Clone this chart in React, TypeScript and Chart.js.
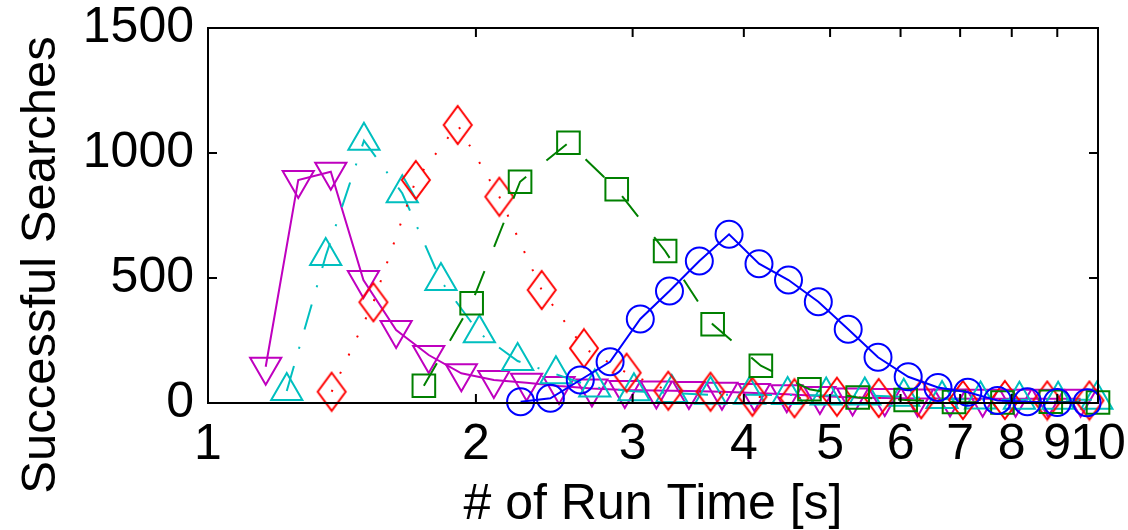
import React, { useEffect, useRef } from "react";
import { Chart, registerables } from "chart.js";

Chart.register(...registerables);

const xTickValues = [1, 2, 3, 4, 5, 6, 7, 8, 9, 10];
const yTickValues = [0, 500, 1000, 1500];

const blueX = [2.245, 2.425, 2.62, 2.83, 3.06, 3.3, 3.565, 3.85, 4.16, 4.49, 4.85, 5.24, 5.66, 6.12, 6.61, 7.14, 7.71, 8.33, 9.0, 9.72];
const blueY = [5, 19, 92, 165, 336, 448, 568, 675, 557, 492, 405, 295, 183, 105, 62, 43, 10, 5, 2, 1];

const greenX = [1.748, 1.978, 2.242, 2.541, 2.879, 3.263, 3.69, 4.18, 4.74, 5.37, 6.08, 6.89, 7.81, 8.85, 10.0];
const greenY = [69, 399, 885, 1041, 855, 608, 315, 149, 55, 22, 12, 4, 2, 5, 2];

const redX = [1.377, 1.534, 1.712, 1.908, 2.125, 2.371, 2.645, 2.954, 3.29, 3.67, 4.09, 4.56, 5.09, 5.67, 6.33, 7.05, 7.86, 8.77, 9.78];
const redY = [45, 403, 892, 1112, 825, 452, 219, 121, 49, 45, 25, 19, 25, 20, 15, 12, 12, 10, 10];

const cyanX = [1.226, 1.356, 1.497, 1.653, 1.827, 2.018, 2.228, 2.46, 2.72, 3.01, 3.32, 3.67, 4.06, 4.48, 4.95, 5.47, 6.05, 6.68, 7.38, 8.16, 9.02, 9.97];
const cyanY = [48, 588, 1049, 839, 488, 279, 168, 115, 62, 47, 40, 33, 33, 32, 30, 30, 25, 16, 14, 13, 13, 13];

const magentaX = [1.161, 1.263, 1.374, 1.495, 1.627, 1.77, 1.926, 2.095, 2.28, 2.48, 2.7, 2.94, 3.19, 3.47, 3.78, 4.11, 4.47, 4.87, 5.3, 5.76, 6.27, 6.82, 7.42, 8.08, 8.79, 9.56];
const magentaY = [145, 892, 925, 492, 292, 192, 119, 92, 81, 68, 58, 52, 50, 48, 45, 40, 35, 28, 22, 20, 18, 18, 17, 17, 17, 17];

const xTitle = "# of Run Time [s]";
const yTitle = "Successful Searches";

const BLUE = "#0000ff";
const GREEN = "#008000";
const RED = "#ff0000";
const CYAN = "#00bfbf";
const MAGENTA = "#bf00bf";

const FONT = "'Liberation Sans', Arial, Helvetica, sans-serif";

function pts(xs: number[], ys: number[]) {
  return xs.map((x, i) => ({ x, y: ys[i] }));
}

function makeDiamond(color: string): HTMLCanvasElement {
  const c = document.createElement("canvas");
  const w = 32;
  const h = 42;
  c.width = w;
  c.height = h;
  const g = c.getContext("2d")!;
  g.strokeStyle = color;
  g.lineWidth = 2;
  g.beginPath();
  g.moveTo(w / 2, 2);
  g.lineTo(w - 2, h / 2);
  g.lineTo(w / 2, h - 2);
  g.lineTo(2, h / 2);
  g.closePath();
  g.stroke();
  return c;
}

const boxPlugin = {
  id: "matlabBox",
  afterDatasetsDraw(chart: any) {
    const { ctx, chartArea, scales } = chart;
    const { left, right, top, bottom } = chartArea;
    ctx.save();
    ctx.strokeStyle = "#000";
    ctx.lineWidth = 2;
    ctx.strokeRect(left, top, right - left, bottom - top);
    const len = 9;
    ctx.beginPath();
    for (const v of xTickValues) {
      const px = scales.x.getPixelForValue(v);
      if (px <= left + 1 || px >= right - 1) continue;
      ctx.moveTo(px, bottom);
      ctx.lineTo(px, bottom - len);
      ctx.moveTo(px, top);
      ctx.lineTo(px, top + len);
    }
    for (const v of yTickValues) {
      const py = scales.y.getPixelForValue(v);
      if (py <= top + 1 || py >= bottom - 1) continue;
      ctx.moveTo(left, py);
      ctx.lineTo(left + len, py);
      ctx.moveTo(right, py);
      ctx.lineTo(right - len, py);
    }
    ctx.stroke();
    ctx.restore();
  },
};

const TITLE_SIZE = 49;
const TITLE_PAD_TOP = 17;

export default function App() {
  const ref = useRef<HTMLCanvasElement | null>(null);

  useEffect(() => {
    if (!ref.current) return;
    const diamond = makeDiamond(RED);
    const common = {
      showLine: true,
      fill: false,
      tension: 0,
      borderWidth: 2,
      pointBorderWidth: 2,
      pointBackgroundColor: "rgba(0,0,0,0)",
      backgroundColor: "rgba(0,0,0,0)",
      clip: false as any,
    };
    const chart = new Chart(ref.current, {
      type: "scatter",
      data: {
        datasets: [
          {
            ...common,
            label: "blue",
            data: pts(blueX, blueY),
            borderColor: BLUE,
            pointBorderColor: BLUE,
            pointStyle: "circle",
            pointRadius: 13.5,
            order: 0,
          },
          {
            ...common,
            label: "green",
            data: pts(greenX, greenY),
            borderColor: GREEN,
            pointBorderColor: GREEN,
            borderDash: [26, 26],
            pointStyle: "rect",
            pointRadius: 16,
            order: 1,
          },
          {
            ...common,
            label: "red",
            data: pts(redX, redY),
            borderColor: RED,
            pointBorderColor: RED,
            borderDash: [2, 18],
            pointStyle: diamond as any,
            pointRadius: 16,
            order: 2,
          },
          {
            ...common,
            label: "cyan",
            data: pts(cyanX, cyanY),
            borderColor: CYAN,
            pointBorderColor: CYAN,
            borderDash: [26, 18, 2, 18],
            pointStyle: "triangle",
            pointRadius: 18,
            order: 3,
          },
          {
            ...common,
            label: "magenta",
            data: pts(magentaX, magentaY),
            borderColor: MAGENTA,
            pointBorderColor: MAGENTA,
            pointStyle: "triangle",
            pointRotation: 180,
            pointRadius: 18,
            order: 4,
          },
        ],
      },
      options: {
        animation: false,
        responsive: false,
        maintainAspectRatio: false,
        layout: { padding: { top: 0, right: 0, left: 0, bottom: 0 } },
        plugins: {
          legend: { display: false },
          tooltip: { enabled: false },
          title: {
            display: true,
            position: "left",
            text: yTitle,
            color: "#000",
            font: { family: FONT, size: TITLE_SIZE, lineHeight: 1, weight: "normal" },
            padding: { top: TITLE_PAD_TOP, bottom: 0 },
          },
        },
        scales: {
          x: {
            type: "logarithmic",
            min: 1,
            max: 10,
            grid: { display: false, drawTicks: false },
            border: { display: false },
            afterBuildTicks: (scale: any) => {
              scale.ticks = xTickValues.map((v) => ({ value: v }));
            },
            afterFit: (scale: any) => {
              scale.height = 127;
              scale.paddingLeft = 0;
              scale.paddingRight = 30;
            },
            ticks: {
              autoSkip: false,
              maxRotation: 0,
              minRotation: 0,
              padding: 12,
              color: "#000",
              font: { family: FONT, size: 50 },
              callback: (v: any) => String(v),
            },
            title: {
              display: true,
              text: xTitle,
              color: "#000",
              font: { family: FONT, size: 50, lineHeight: 1 },
              padding: { top: 0, bottom: 0 },
            },
          },
          y: {
            type: "linear",
            min: 0,
            max: 1500,
            grid: { display: false, drawTicks: false },
            border: { display: false },
            afterBuildTicks: (scale: any) => {
              scale.ticks = yTickValues.map((v) => ({ value: v }));
            },
            afterFit: (scale: any) => {
              scale.width = 208 - (TITLE_SIZE + TITLE_PAD_TOP);
              scale.paddingTop = 28;
              scale.paddingBottom = 0;
            },
            ticks: {
              padding: 14,
              color: "#000",
              font: { family: FONT, size: 50 },
              callback: (v: any) => String(v),
            },
          },
        },
      },
      plugins: [boxPlugin],
    });
    return () => chart.destroy();
  }, []);

  return (
    <div style={{ position: "absolute", left: 0, top: 0, width: 1128, height: 530, background: "#fff" }}>
      <canvas ref={ref} width={1128} height={530} style={{ display: "block", width: 1128, height: 530 }} />
    </div>
  );
}
